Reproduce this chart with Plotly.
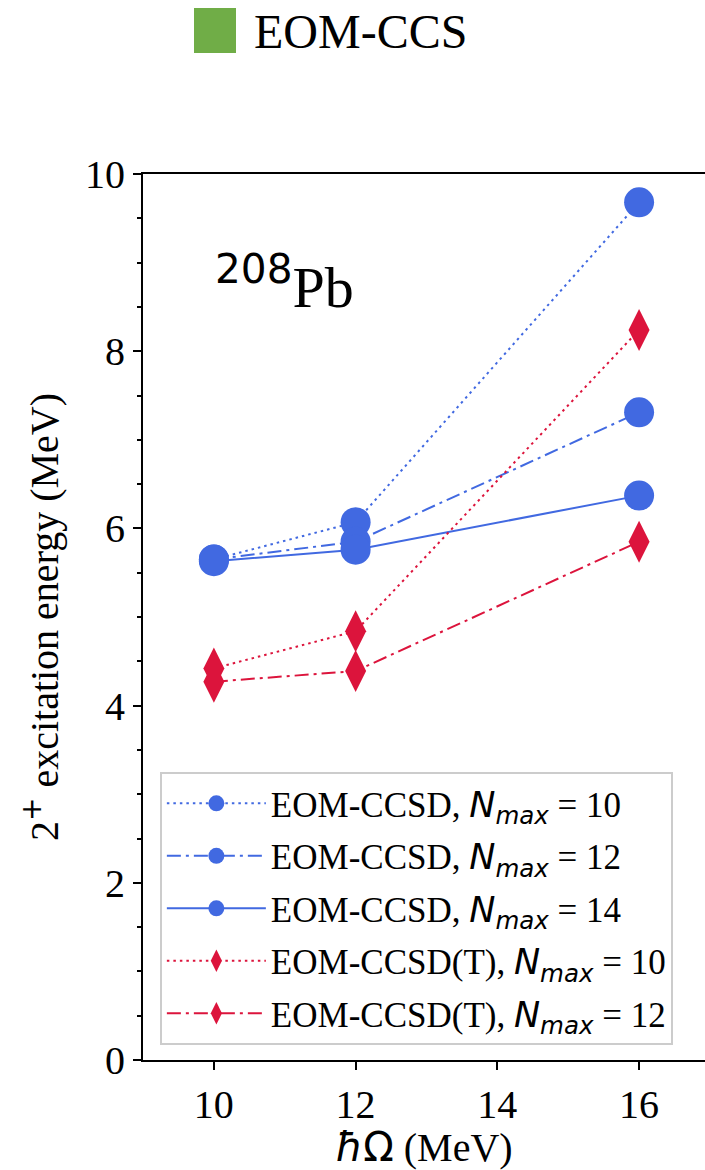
import plotly.graph_objects as go

# ---- data ----
hw = [10, 12, 16]
ccsd_n10 = [5.65, 6.07, 9.68]
ccsd_n12 = [5.65, 5.85, 7.31]
ccsd_n14 = [5.63, 5.76, 6.37]
ccsdt_n10 = [4.42, 4.84, 8.24]
ccsdt_n12 = [4.27, 4.39, 5.85]

NMAX = '<span style="font-family:DejaVu Sans"><i>N</i><sub><i>max</i></sub></span>'
names = [
    f'EOM-CCSD, {NMAX} = 10',
    f'EOM-CCSD, {NMAX} = 12',
    f'EOM-CCSD, {NMAX} = 14',
    f'EOM-CCSD(T), {NMAX} = 10',
    f'EOM-CCSD(T), {NMAX} = 12',
]
series = [ccsd_n10, ccsd_n12, ccsd_n14, ccsdt_n10, ccsdt_n12]

BLUE = "#4169E1"
RED = "#DC143C"
GREEN = "#70AD47"
DOT = "2.5px,4px"
DASHDOT = "14px,5px,3px,5px"
styles = [
    dict(color=BLUE, dash=DOT, symbol="circle", size=30),
    dict(color=BLUE, dash=DASHDOT, symbol="circle", size=30),
    dict(color=BLUE, dash="solid", symbol="circle", size=30),
    dict(color=RED, dash=DOT, symbol="diamond-tall", size=30),
    dict(color=RED, dash=DASHDOT, symbol="diamond-tall", size=30),
]

fig = go.Figure()
for i, (name, ys, st) in enumerate(zip(names, series, styles)):
    fig.add_trace(go.Scatter(
        x=hw, y=ys, name=name, mode="lines+markers", legendgroup=f"g{i}",
        line=dict(color=st["color"], width=2, dash=st["dash"]),
        marker=dict(color=st["color"], size=st["size"], symbol=st["symbol"], line=dict(width=0)),
    ))

SERIF = "Liberation Serif"
fig.update_layout(
    width=705, height=1170,
    margin=dict(l=143, r=0, t=174, b=110, autoexpand=False),
    paper_bgcolor="white", plot_bgcolor="white",
    font=dict(family=SERIF, size=40, color="black"),
    showlegend=True,
    legend=dict(
        x=0.03, y=0.325, xanchor="left", yanchor="top",
        bgcolor="rgba(255,255,255,0.8)", bordercolor="#cccccc", borderwidth=2,
        font=dict(family=SERIF, size=35, color="black"),
        itemwidth=99, tracegroupgap=4,
    ),
    xaxis=dict(
        range=[9, 16.93], tickvals=[10, 12, 14, 16], ticktext=["10", "12", "14", "16"],
        showline=True, linecolor="black", linewidth=2, mirror=True,
        ticks="outside", ticklen=8, tickwidth=2, tickcolor="black",
        showgrid=False, zeroline=False, automargin=False,
        title=dict(text='<span style="font-family:DejaVu Sans"><i>ħ</i>Ω</span> (MeV)',
                   font=dict(family=SERIF, size=40), standoff=2),
    ),
    yaxis=dict(
        range=[0, 10], tickvals=[0, 2, 4, 6, 8, 10],
        showline=True, linecolor="black", linewidth=2, mirror=False,
        ticks="outside", ticklen=8, tickwidth=2, tickcolor="black",
        minor=dict(dtick=0.5, ticks="outside", ticklen=4, tickwidth=1.5, tickcolor="black"),
        showgrid=False, zeroline=False, automargin=False,
        title=dict(text='2<sup><span style="font-family:DejaVu Sans">+</span></sup> excitation energy (MeV)',
                   font=dict(family=SERIF, size=40), standoff=14),
    ),
)

fig.add_annotation(
    xref="paper", yref="paper", x=0.125, y=0.878, xanchor="left", yanchor="middle",
    text='<sup><span style="font-family:DejaVu Sans">208</span></sup>Pb',
    showarrow=False, font=dict(family=SERIF, size=58, color="black"),
)

# top "EOM-CCS" key
fig.add_shape(type="rect", xref="paper", yref="paper",
              x0=(194 - 143) / 562, x1=(236 - 143) / 562,
              y0=(1060 - 53) / 886, y1=(1060 - 8) / 886,
              fillcolor=GREEN, line=dict(width=0))
fig.add_annotation(
    xref="paper", yref="paper", x=(252 - 143) / 562, y=(1060 - 31) / 886,
    xanchor="left", yanchor="middle", text="EOM-CCS", showarrow=False,
    font=dict(family=SERIF, size=48, color="black"),
)

fig.write_html(
    "out.html",
    config={"displayModeBar": False},
    post_script="document.body.style.margin='0';document.body.style.overflow='hidden';",
)
